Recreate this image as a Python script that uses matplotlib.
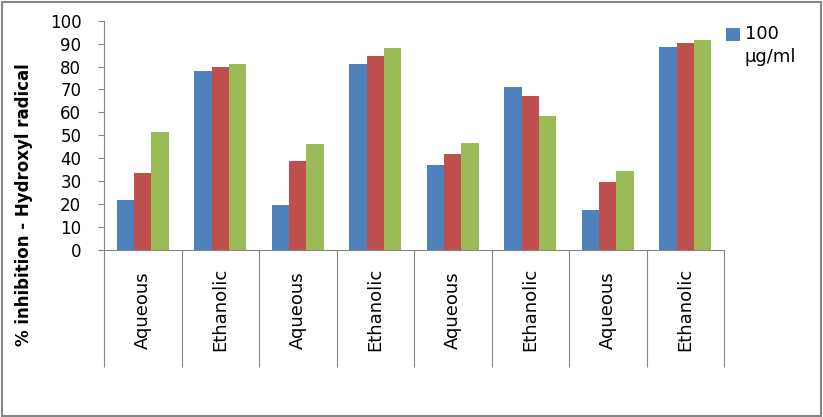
import numpy as np
import matplotlib
matplotlib.use('Agg')
import matplotlib.pyplot as plt
from matplotlib.patches import Rectangle

# -------------------------------
# data
# -------------------------------
categories = ['Aqueous', 'Ethanolic', 'Aqueous', 'Ethanolic',
              'Aqueous', 'Ethanolic', 'Aqueous', 'Ethanolic']
conc_100 = [22, 78, 19.7, 81.3, 37.2, 71.3, 17.6, 88.7]
conc_200 = [33.7, 79.6, 38.9, 84.4, 42, 67.3, 29.7, 90.1]
conc_300 = [51.6, 81.3, 46.4, 87.9, 46.8, 58.6, 34.6, 91.8]
legend_label = '100\nµg/ml'

colors = ['#4F81BD', '#C0504D', '#9BBB59']
axis_col = '#868686'

plt.rcParams['font.family'] = ['DejaVu Sans']

fig = plt.figure(figsize=(8.23, 4.17), dpi=100)
ax = fig.add_axes([104 / 823, 1 - 250 / 417, 620 / 823, 229.3 / 417])

x = np.arange(len(categories))
w = 0.667 / 3
bars = []
for i, vals in enumerate([conc_100, conc_200, conc_300]):
    bars.append(ax.bar(x + (i - 1) * w, vals, width=w, color=colors[i], linewidth=0))

ax.set_xlim(-0.5, len(categories) - 0.5)
ax.set_ylim(0, 100)
ax.set_yticks(np.arange(0, 101, 10))
ax.tick_params(axis='y', direction='out', length=4.3, width=0.8, color=axis_col,
               labelsize=12, pad=12)

# category labels centred in the band, separators as long minor ticks
ax.set_xticks(x)
ax.set_xticklabels(categories, rotation=90, va='center', fontsize=13)
ax.set_xticks(np.arange(-0.5, len(categories), 1), minor=True)
ax.tick_params(axis='x', which='major', length=0, pad=43)
ax.tick_params(axis='x', which='minor', direction='out', length=84, width=0.8, color=axis_col)

for s in ['top', 'right']:
    ax.spines[s].set_visible(False)
for s in ['left', 'bottom']:
    ax.spines[s].set_color(axis_col)
    ax.spines[s].set_linewidth(0.8)

ax.set_ylabel('% inhibition - Hydroxyl radical', fontsize=12, fontweight='bold', va='center')
ax.yaxis.set_label_coords((24 - 104) / 620, (250 - 205) / 229.3)

leg = ax.legend([bars[0]], [legend_label], loc='upper left', bbox_to_anchor=(726 / 823, 1 - 25 / 417),
                bbox_transform=fig.transFigure, frameon=False, fontsize=13,
                handlelength=0.75, handleheight=0.75, handletextpad=0.3,
                borderpad=0, borderaxespad=0)
leg.get_texts()[0].set_linespacing(1.35)
# square sits beside the first line, as in the original
hnd = leg.legend_handles[0]
hnd.set_y(hnd.get_y() + 8.5)

# chart border
fig.patches.append(Rectangle((0.002, 0.003), 0.995, 0.993, transform=fig.transFigure,
                             fill=False, edgecolor=axis_col, linewidth=1.5))

plt.savefig('out.png', dpi=100)
